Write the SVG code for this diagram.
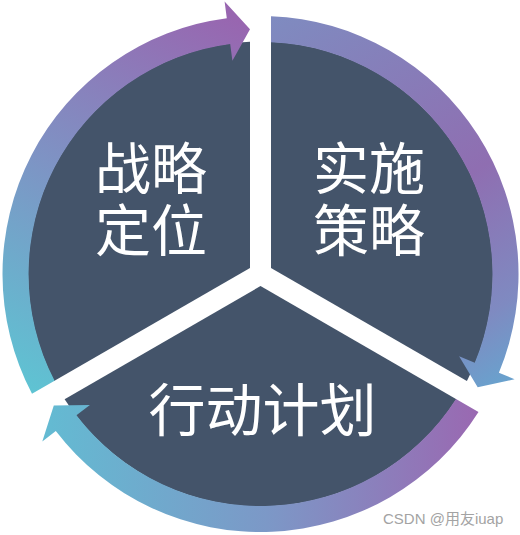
<svg xmlns="http://www.w3.org/2000/svg" width="520" height="535" viewBox="0 0 520 535">
  <style>
    .sector { fill: #44546A; }
    .label { fill: #FFFFFF; font-family: "Noto Sans CJK SC", "Microsoft YaHei", sans-serif; font-size: 56px; text-anchor: middle; }
    .wm { fill: #A3A3A3; font-family: "Liberation Sans", "Noto Sans CJK SC", sans-serif; font-size: 15px; }
  </style>
  <defs>
    <linearGradient id="g1" gradientUnits="userSpaceOnUse" x1="40" y1="400" x2="245" y2="25">
      <stop offset="0" stop-color="#5EC4D3"/>
      <stop offset="0.5" stop-color="#7E93C4"/>
      <stop offset="1" stop-color="#9866B0"/>
    </linearGradient>
    <linearGradient id="g2" gradientUnits="userSpaceOnUse" x1="270" y1="20" x2="495" y2="385">
      <stop offset="0" stop-color="#7F8BC0"/>
      <stop offset="0.55" stop-color="#8F6EB1"/>
      <stop offset="0.85" stop-color="#7F8AC1"/>
      <stop offset="1" stop-color="#6AA1CD"/>
    </linearGradient>
    <linearGradient id="g3" gradientUnits="userSpaceOnUse" x1="480" y1="410" x2="50" y2="420">
      <stop offset="0" stop-color="#9A68B1"/>
      <stop offset="0.5" stop-color="#7C98C7"/>
      <stop offset="1" stop-color="#64BAD2"/>
    </linearGradient>
  </defs>
  <rect width="520" height="535" fill="#FFFFFF"/>

  <g id="node-strategy">
    <path class="sector" d="M 250.0 267.9 L 54.1 381.0 A 232.5 232.5 0 0 1 250.0 41.7 Z"/>
    <text class="label"><tspan x="151" y="189">战略</tspan><tspan x="151" y="251">定位</tspan></text>
  </g>

  <g id="node-implementation">
    <path class="sector" d="M 271.0 267.9 L 271.0 41.7 A 232.5 232.5 0 0 1 466.9 381.0 Z"/>
    <text class="label"><tspan x="369" y="189">实施</tspan><tspan x="369" y="251">策略</tspan></text>
  </g>

  <g id="node-action">
    <path class="sector" d="M 260.5 286.1 L 456.4 399.2 A 232.5 232.5 0 0 1 64.6 399.2 Z"/>
    <text class="label" x="262.5" y="431" style="font-size:57px">行动计划</text>
  </g>

  <g id="connectors">
    <path fill="url(#g1)" d="M 32.0 393.8 A 258 258 0 0 1 226.8 18.2 L 224.6 1.4 L 250.0 29.2 L 232.4 60.8 L 230.2 44.0 A 232 232 0 0 0 54.6 380.8 Z"/>
    <path fill="url(#g2)" d="M 271.0 16.2 A 258 258 0 0 1 498.9 372.7 L 514.6 379.2 L 477.7 387.3 L 459.1 356.3 L 474.8 362.8 A 232 232 0 0 0 271.0 42.2 Z"/>
    <path fill="url(#g3)" d="M 478.5 412.0 A 258 258 0 0 1 55.8 431.1 L 42.3 441.4 L 53.8 405.5 L 89.9 404.9 L 76.4 415.2 A 232 232 0 0 0 456.0 399.0 Z"/>
  </g>

  <text class="wm" x="383" y="524">CSDN @用友iuap</text>
</svg>
